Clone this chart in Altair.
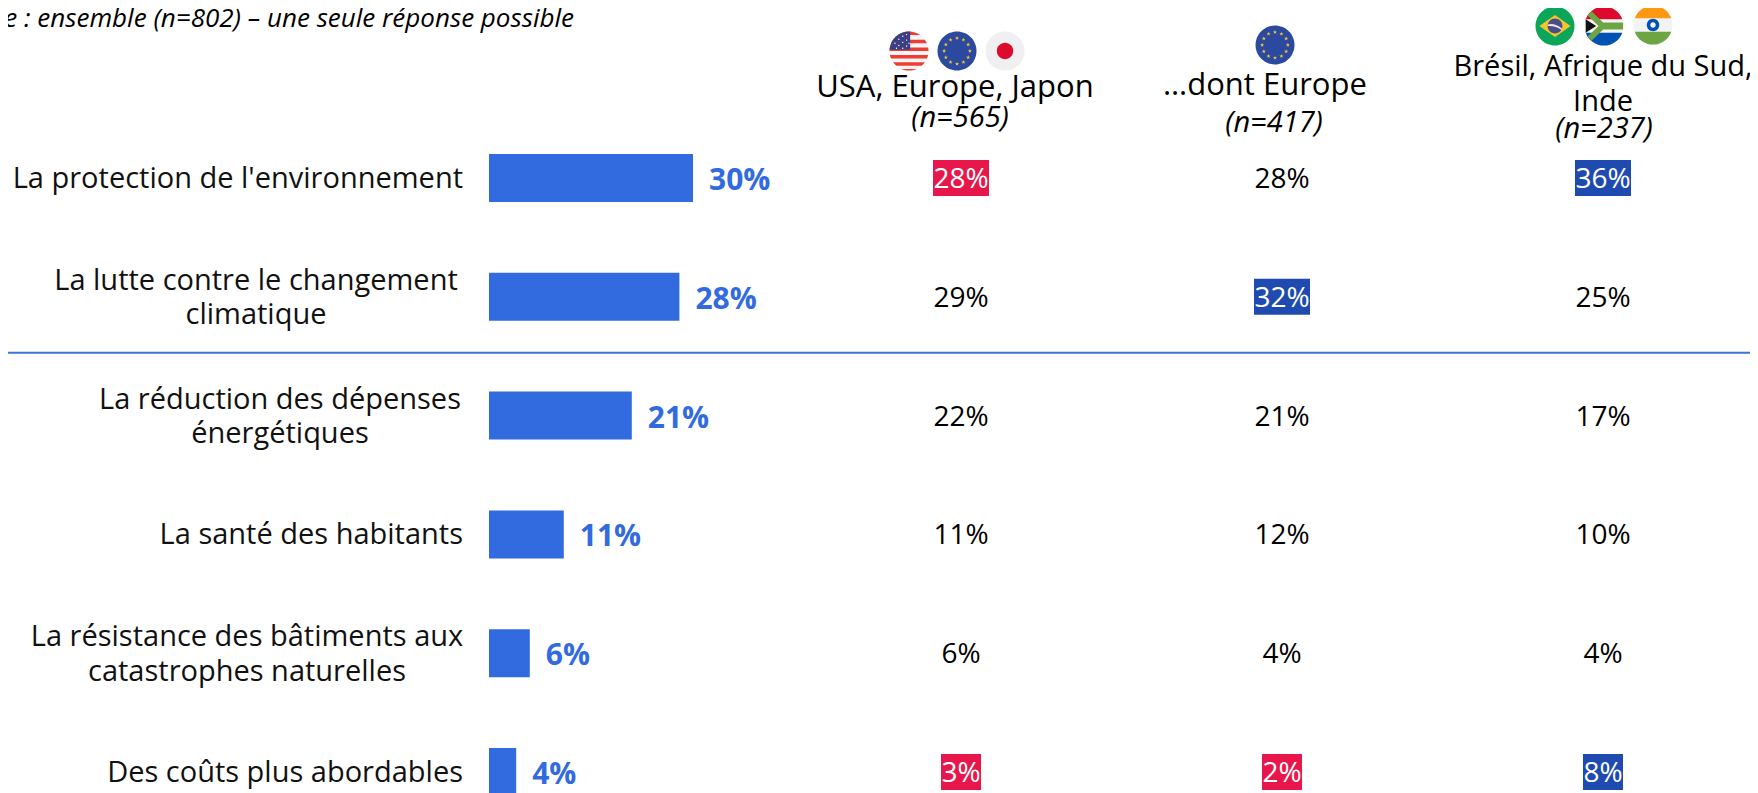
import math
import altair as alt
import pandas as pd

FONT = "Open Sans"
W, H = 1742, 785

# ---- data ----
rows = ["La protection de l'environnement", "La lutte contre le changement\nclimatique",
        "La réduction des dépenses\nénergétiques", "La santé des habitants",
        "La résistance des bâtiments aux\ncatastrophes naturelles", "Des coûts plus abordables"]
ensemble = [30, 28, 21, 11, 6, 4]
cols = ["USA, Europe, Japon", "…dont Europe", "Brésil, Afrique du Sud, Inde"]
col_a = [28, 29, 22, 11, 6, 3]
col_b = [28, 32, 21, 12, 4, 2]
col_c = [36, 25, 17, 10, 4, 8]
mark_a = ["low", "", "", "", "", "low"]
mark_b = ["", "high", "", "", "", "low"]
mark_c = ["high", "", "", "", "", "high"]
subtitle = "Base : ensemble (n=802) – une seule réponse possible"
headers = [("USA, Europe, Japon", 947, 80, 31, "normal"), ("(n=565)", 952, 110, 29, "italic"),
           ("…dont Europe", 1257, 78, 31, "normal"), ("(n=417)", 1266, 115, 29, "italic"),
           ("Brésil, Afrique du Sud,", 1595, 59, 29, "normal"), ("Inde", 1595, 94, 29, "normal"),
           ("(n=237)", 1596, 121, 29, "italic")]

BLUE = "#326BDF"
RED_BOX = "#E8174B"
BLUE_BOX = "#1F4BB0"
LINE = "#3F73DE"

rows_df = pd.DataFrame({"row": rows, "v": ensemble, "lab": [f"{v}%" for v in ensemble]})
long = pd.DataFrame({
    "row": rows * 3,
    "col": [c for c in cols for _ in rows],
    "v": col_a + col_b + col_c,
    "m": mark_a + mark_b + mark_c,
})
long["lab"] = long["v"].astype(str) + "%"

y_row = alt.Y("row:N", axis=None, sort=rows,
              scale=alt.Scale(type="point", domain=rows, range=[170, 764], padding=0))
x_bar = alt.X("v:Q", axis=None, scale=alt.Scale(domain=[0, 30], range=[481, 685]))
x_col = alt.X("col:N", axis=None, sort=cols,
              scale=alt.Scale(type="point", domain=cols, range=[953, 1595], padding=0))
px_x = alt.Scale(domain=[0, W], range=[0, W])
px_y = alt.Scale(domain=[0, H], range=[0, H])

bars = alt.Chart(rows_df).mark_bar(color=BLUE, size=48).encode(
    x=alt.X("v:Q", axis=None, scale=alt.Scale(domain=[0, 30], range=[481, 685])),
    x2=alt.datum(0), y=y_row)
bar_labels = alt.Chart(rows_df).mark_text(align="left", baseline="middle", dx=16, dy=3, font=FONT,
                                          fontSize=30, fontWeight="bold", color=BLUE).encode(
    x=x_bar, y=y_row, text="lab:N")

# row labels: single lines end flush right, wrapped ones are centred blocks
label_layers = []
label_centers = {rows[1]: 248, rows[2]: 272, rows[4]: 239}
for r in rows:
    d = pd.DataFrame({"row": [r], "t": [r]})
    if r in label_centers:
        m = alt.Chart(d).mark_text(align="center", baseline="middle", font=FONT, fontSize=29, dy=-16,
                                   lineBreak="\n", lineHeight=34.5, color="#111111")
        xx = alt.value(label_centers[r])
    else:
        m = alt.Chart(d).mark_text(align="right", baseline="middle", font=FONT, fontSize=29, dy=1,
                                   color="#111111")
        xx = alt.value(455)
    label_layers.append(m.encode(x=xx, y=y_row, text="t:N"))

def boxes(kind, color, wide):
    d = long[(long.m == kind) & ((long.v >= 10) == wide)]
    return alt.Chart(d).mark_rect(color=color, width=56 if wide else 40, height=36).encode(x=x_col, y=y_row)

box_layers = [boxes("low", RED_BOX, True), boxes("low", RED_BOX, False),
              boxes("high", BLUE_BOX, True), boxes("high", BLUE_BOX, False)]
values = alt.Chart(long).mark_text(baseline="middle", align="center", font=FONT, fontSize=28, dy=2).encode(
    x=x_col, y=y_row, text="lab:N",
    color=alt.condition("datum.m != ''", alt.value("#FFFFFF"), alt.value("#000000")))

sep = alt.Chart(pd.DataFrame({"row": [rows[1]]})).mark_rule(color=LINE, strokeWidth=2, yOffset=56).encode(
    y=y_row, x=alt.value(0), x2=alt.value(W))

hdr = pd.DataFrame(headers, columns=["t", "px", "py", "fs", "st"])
header_layers = []
for st, g in hdr.groupby("st"):
    for fs, g2 in g.groupby("fs"):
        header_layers.append(
            alt.Chart(g2).mark_text(align="center", baseline="middle", font=FONT, fontSize=int(fs),
                                    fontStyle=st, color="#000000").encode(
                x=alt.X("px:Q", axis=None, scale=px_x), y=alt.Y("py:Q", axis=None, scale=px_y), text="t:N"))
sub = alt.Chart(pd.DataFrame({"t": [subtitle], "px": [566], "py": [11]})).mark_text(
    align="right", baseline="middle", font=FONT, fontSize=26, fontStyle="italic", color="#000000").encode(
    x=alt.X("px:Q", axis=None, scale=px_x), y=alt.Y("py:Q", axis=None, scale=px_y), text="t:N")

# ---- flags: vector icons, unit circle of radius 0.5 ----
def circle(r=0.5, cx=0, cy=0):
    return f"M{cx-r:.3f},{cy:.3f}A{r},{r} 0 1 1 {cx+r:.3f},{cy:.3f}A{r},{r} 0 1 1 {cx-r:.3f},{cy:.3f}Z"

def band(y1, y2):
    a = math.sqrt(max(0, .25 - y1 * y1))
    b = math.sqrt(max(0, .25 - y2 * y2))
    return f"M{-a:.3f},{y1}L{a:.3f},{y1}A.5,.5 0 0 1 {b:.3f},{y2}L{-b:.3f},{y2}A.5,.5 0 0 1 {-a:.3f},{y1}Z"

def poly(pts):
    return "M" + "L".join(f"{x:.3f},{y:.3f}" for x, y in pts) + "Z"

def star(cx, cy, r):
    pts = []
    for i in range(10):
        a = -math.pi / 2 + i * math.pi / 5
        q = r if i % 2 == 0 else r * .42
        pts.append((cx + q * math.cos(a), cy + q * math.sin(a)))
    return poly(pts)

def eu():
    stars = "".join(star(.33 * math.cos(i * math.pi / 6), .33 * math.sin(i * math.pi / 6), .055) for i in range(12))
    return [("#2B4A9F", circle()), ("#F2C230", stars)]

us_stars = "".join(circle(.018, x, y) for x, y in
                   [(-.36, -.2), (-.26, -.3), (-.26, -.14), (-.16, -.38), (-.16, -.22), (-.16, -.07),
                    (-.06, -.42), (-.06, -.28), (-.06, -.13), (-.32, -.07), (.0, -.2)])
flag_defs = {
    "us": [("#F5F5F5", circle())] + [("#EE3D32", band(a, b)) for a, b in
           [(-.5, -.41), (-.29, -.2), (-.09, 0), (.1, .19), (.29, .38), (.46, .5)]] +
          [("#3D3F83", "M.03,-.5L.03,-.03L-.5,-.03A.5,.5 0 0 1 .03,-.5Z"), ("#FFFFFF", us_stars)],
    "eu1": eu(),
    "jp": [("#F0F0F2", circle()), ("#DC0A2D", circle(.21))],
    "eu2": eu(),
    "br": [("#0BA65A", circle()), ("#F7C52B", poly([(-.4, 0), (0, -.28), (.4, 0), (0, .28)])),
           ("#4A4E86", circle(.19)), ("#E8E8EE", "M-.18,-.04Q0,-.08 .18,.07L.17,.1Q0,-.02 -.19,0Z")],
    "za": [("#F5F5F5", circle()), ("#DC0A2D", band(-.5, -.17)), ("#0052B4", band(.17, .5)),
           ("#6DA544", poly([(-.42, -.27), (-.32, -.38), (-.02, -.09), (.49, -.09), (.49, .09), (-.02, .09), (-.32, .38), (-.42, .27), (-.14, 0)])),
           ("#111111", poly([(-.47, -.17), (-.2, 0), (-.47, .17)]))],
    "in": [("#F3F3F3", circle()), ("#FF9811", band(-.5, -.17)), ("#6DA544", band(.17, .5)),
           ("#0052B4", circle(.16)), ("#F3F3F3", circle(.07))],
}
flag_pos = {"us": (901, 43), "eu1": (949, 43), "jp": (997, 43), "eu2": (1267, 37),
            "br": (1547, 18), "za": (1596, 18), "in": (1645, 17)}
fl = pd.DataFrame([{"flag": k, "px": flag_pos[k][0], "py": flag_pos[k][1], "color": c, "path": p}
                   for k, parts in flag_defs.items() for c, p in parts])
flags = alt.Chart(fl).mark_point(filled=True, opacity=1, size=78 * 78, strokeWidth=0).encode(
    x=alt.X("px:Q", axis=None, scale=px_x), y=alt.Y("py:Q", axis=None, scale=px_y),
    shape=alt.Shape("path:N", scale=None, legend=None),
    color=alt.Color("color:N", scale=None, legend=None))

chart = alt.layer(sep, bars, bar_labels, *label_layers, *box_layers, values,
                  sub, *header_layers, flags).resolve_scale(
    x="independent", y="independent", shape="independent", color="independent"
).properties(width=W, height=H, padding=0,
             autosize=alt.AutoSizeParams(type="none")).configure_view(stroke=None)

chart.save("out.html", embed_options={"renderer": "svg", "actions": False})
